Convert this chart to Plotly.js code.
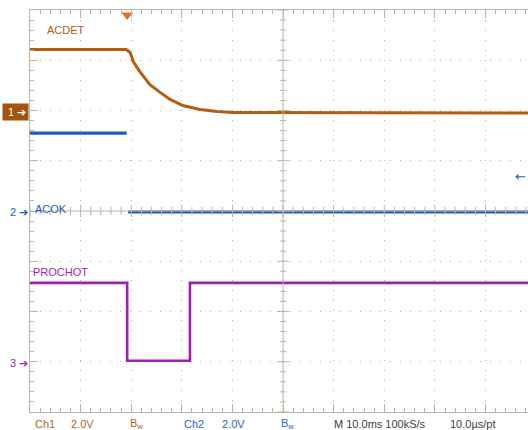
<!DOCTYPE html>
<html>
<head>
<meta charset="utf-8">
<script src="https://cdn.plot.ly/plotly-3.0.1.min.js"></script>
<style>html,body{margin:0;padding:0;background:#fff;}#chart{width:528px;height:430px;}</style>
</head>
<body>
<div id="chart"></div>
<script>
// ---- data (time in ms relative to screen centre, values in volts) ----
const ch1Time = [-50, -31.0, -30.2, -29.6, -28.3, -26.3, -24.3, -22.3, -19.8, -16.4, -13.0, -9.9, 48.4];
const ch1Volt = [2.43, 2.43, 2.31, 1.95, 1.55, 1.03, 0.72, 0.44, 0.20, 0.04, -0.04, -0.08, -0.10];
const ch2Time = [-50, -30.9, null, -30.6, 48.4];
const ch2Volt = [3.10, 3.10, null, -0.04, -0.04];
const ch3Time = [-50, -30.8, -30.8, -18.4, -18.4, 48.4];
const ch3Volt = [3.14, 3.14, 0.04, 0.04, 3.14, 3.14];
const channelNames = ['ACDET', 'ACOK', 'PROCHOT'];
const channelOffsetDiv = [2, 0, -3];
const voltsPerDiv = 2.0;
const triggerTime = -30.8;
const bottomLabels = ['Ch1', '2.0V', 'B<sub>w</sub>', 'Ch2', '2.0V', 'B<sub>w</sub>', 'M 10.0ms 100kS/s', '10.0µs/pt'];

// ---- style ----
const C1 = '#b45c12', C2 = '#1d5cc2', C3 = '#a11fb0';
const FRAME = '#bdb4a4';
const FONT = 'Liberation Sans, Arial, sans-serif';
const xRange = [-50, 48.4];
const W = 528, H = 430, ML = 30, MT = 10, MB = 18;
const plotW = W - ML, plotH = H - MT - MB;
function px2paperX(px){ return (px - ML) / plotW; }
function px2paperY(py){ return (H - MB - py) / plotH; }

function chRange(i){ return [(-4 - channelOffsetDiv[i]) * voltsPerDiv, (4 - channelOffsetDiv[i]) * voltsPerDiv]; }

const traces = [
  {x: ch1Time, y: ch1Volt, yaxis: 'y2', mode: 'lines', line: {color: C1, width: 3}, connectgaps: false, hoverinfo: 'skip'},
  {x: ch2Time, y: ch2Volt, yaxis: 'y3', mode: 'lines', line: {color: C2, width: 3.2}, connectgaps: false, hoverinfo: 'skip'},
  {x: ch3Time, y: ch3Volt, yaxis: 'y4', mode: 'lines', line: {color: C3, width: 2.6}, hoverinfo: 'skip'},
  {x: [triggerTime], y: [3.9], yaxis: 'y', mode: 'markers', cliponaxis: false,
   marker: {symbol: 'triangle-down', size: 10, color: '#f0682c'}, hoverinfo: 'skip'}
];

// centre cross-hair with ticks
const shapes = [
  {type: 'line', xref: 'x', yref: 'paper', x0: 0, x1: 0, y0: 0, y1: 1, line: {color: FRAME, width: 1}},
  {type: 'line', xref: 'paper', yref: 'y', x0: 0, x1: 1, y0: 0, y1: 0, line: {color: FRAME, width: 1}}
];
for (let k = -20; k <= 20; k++) {
  const major = (k % 5 === 0);
  const len = major ? 6 : 3;
  shapes.push({type: 'line', xref: 'x', yref: 'y', xsizemode: 'pixel', xanchor: 0,
    x0: -len, x1: len, y0: k * 0.2, y1: k * 0.2, line: {color: FRAME, width: 1}});
}
for (let t = -50; t <= 48; t += 2) {
  const major = (t % 10 === 0);
  const len = major ? 6 : 4;
  shapes.push({type: 'line', xref: 'x', yref: 'y', ysizemode: 'pixel', yanchor: 0,
    x0: t, x1: t, y0: -len, y1: len, line: {color: FRAME, width: 1}});
}

const annotations = [
  {text: channelNames[0], x: -47.0, y: 3.60, xanchor: 'left', yanchor: 'middle', font: {color: C1, size: 11, family: FONT}},
  {text: channelNames[1], x: -49.4, y: 0.04, xanchor: 'left', yanchor: 'middle', font: {color: C2, size: 11, family: FONT}},
  {text: channelNames[2], x: -49.8, y: -1.21, xanchor: 'left', yanchor: 'middle', font: {color: C3, size: 11, family: FONT}},
  {text: ' 1 ➔', xref: 'paper', x: px2paperX(29), yref: 'paper', y: px2paperY(112), xanchor: 'right', yanchor: 'middle',
   bgcolor: '#a3520f', borderpad: 2, font: {color: '#ffffff', size: 11, family: FONT}},
  {text: '2 ➔', xref: 'paper', x: px2paperX(30), yref: 'paper', y: px2paperY(212), xanchor: 'right', yanchor: 'middle',
   font: {color: C2, size: 11, family: FONT}},
  {text: '3 ➔', xref: 'paper', x: px2paperX(30), yref: 'paper', y: px2paperY(363), xanchor: 'right', yanchor: 'middle',
   font: {color: C3, size: 11, family: FONT}},
  {text: '←', xref: 'paper', x: 1, yref: 'paper', y: px2paperY(176), xanchor: 'right', yanchor: 'middle',
   font: {color: C2, size: 13, family: 'DejaVu Sans'}}
];
const bottomX = [-49.4, -42.3, -30.6, -20.0, -12.4, -0.8, 9.7, 32.6];
const bottomColors = ['#b06418', '#b06418', '#b06418', '#2e66c4', '#2e66c4', '#2e66c4', '#404040', '#404040'];
bottomLabels.forEach((s, i) => {
  annotations.push({text: s, x: bottomX[i], xref: 'x', y: 0, yref: 'paper', yshift: -12, xanchor: 'left', yanchor: 'middle',
    font: {color: bottomColors[i], size: 11, family: FONT}});
});
annotations.forEach(a => { if (!a.xref) a.xref = 'x'; if (!a.yref) a.yref = 'y'; a.showarrow = false; });

const layout = {
  width: W, height: H,
  margin: {l: ML, r: 0, t: MT, b: MB, pad: 0},
  paper_bgcolor: '#ffffff', plot_bgcolor: '#ffffff',
  showlegend: false,
  font: {family: FONT},
  xaxis: {range: xRange, dtick: 10, tick0: 0, showticklabels: false, zeroline: false,
    showgrid: true, gridcolor: '#b0b0b0', griddash: '1px,9px', gridwidth: 1,
    showline: true, linecolor: FRAME, linewidth: 1, mirror: 'ticks',
    ticks: 'inside', ticklen: 8, tickcolor: FRAME, tickwidth: 1,
    minor: {dtick: 2, tick0: 0, ticks: 'inside', ticklen: 4, tickcolor: FRAME, showgrid: false},
    fixedrange: true},
  yaxis: {range: [-4, 4], dtick: 1, tick0: 0, showticklabels: false, zeroline: false,
    showgrid: true, gridcolor: '#b0b0b0', griddash: '1px,9px', gridwidth: 1,
    showline: true, linecolor: FRAME, linewidth: 1, mirror: false,
    ticks: 'inside', ticklen: 8, tickcolor: FRAME, tickwidth: 1,
    minor: {dtick: 0.2, tick0: 0, ticks: 'inside', ticklen: 4, tickcolor: FRAME, showgrid: false},
    fixedrange: true},
  yaxis2: {range: chRange(0), overlaying: 'y', visible: false, fixedrange: true},
  yaxis3: {range: chRange(1), overlaying: 'y', visible: false, fixedrange: true},
  yaxis4: {range: chRange(2), overlaying: 'y', visible: false, fixedrange: true},
  shapes: shapes,
  annotations: annotations
};

Plotly.newPlot('chart', traces, layout, {displayModeBar: false, staticPlot: true});
</script>
</body>
</html>
